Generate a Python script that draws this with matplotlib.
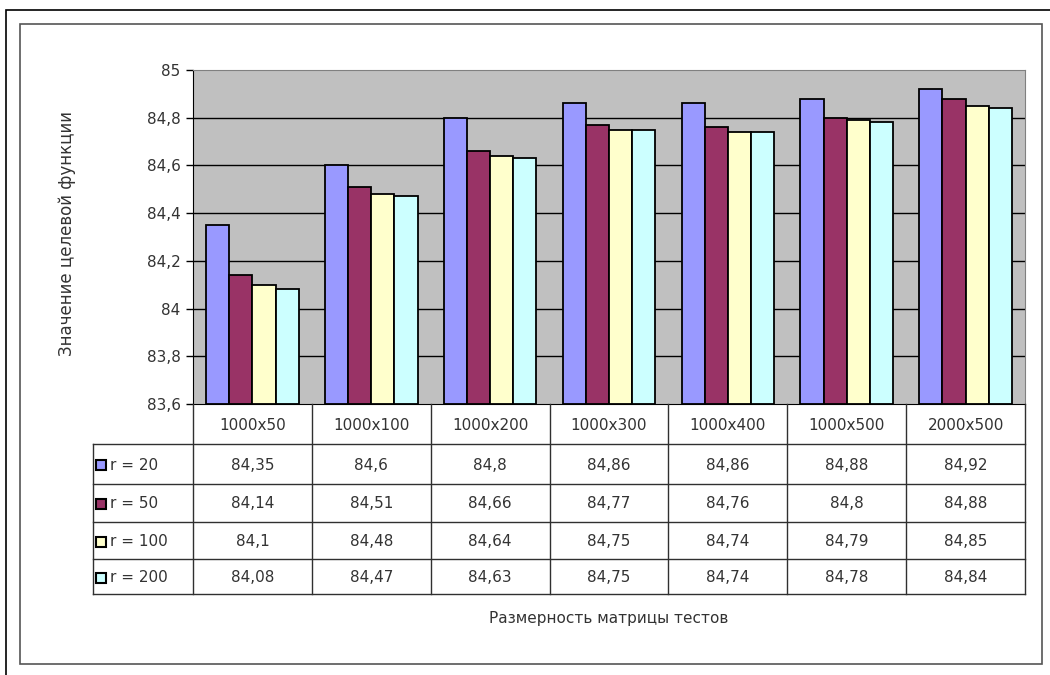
import numpy as np
import matplotlib
matplotlib.use("Agg")
import matplotlib.pyplot as plt
from matplotlib.patches import Rectangle

plt.rcParams["font.family"] = ["DejaVu Sans"]

categories = ["1000x50", "1000x100", "1000x200", "1000x300", "1000x400", "1000x500", "2000x500"]
series_names = ["r = 20", "r = 50", "r = 100", "r = 200"]
r20 = [84.35, 84.6, 84.8, 84.86, 84.86, 84.88, 84.92]
r50 = [84.14, 84.51, 84.66, 84.77, 84.76, 84.8, 84.88]
r100 = [84.1, 84.48, 84.64, 84.75, 84.74, 84.79, 84.85]
r200 = [84.08, 84.47, 84.63, 84.75, 84.74, 84.78, 84.84]
yticks = [83.6, 83.8, 84.0, 84.2, 84.4, 84.6, 84.8, 85.0]

colors = ["#9999FF", "#993366", "#FFFFCC", "#CCFFFF"]
series = [r20, r50, r100, r200]

W, H = 1050, 675
FS = 11
TC = "#333333"


def rect(l, t, r, b):
    return [l / W, 1 - b / H, (r - l) / W, (b - t) / H]


def fmt(v):
    return f"{v:g}".replace(".", ",")


fig = plt.figure(figsize=(10.5, 6.75), dpi=100)

# frames
fig.patches.append(Rectangle((6 / W, -0.1), 1.2, 1.1 - 10 / H, transform=fig.transFigure,
                             fill=False, edgecolor="black", lw=1.2))
fig.patches.append(Rectangle((20 / W, 1 - 664 / H), 1022 / W, 640 / H, transform=fig.transFigure,
                             fill=False, edgecolor="#555555", lw=1.2))

# plot area
left, right, top, bottom = 193, 1025, 70, 404
ax = fig.add_axes(rect(left, top, right, bottom))
ax.set_facecolor("#C0C0C0")
x = np.arange(len(categories))
w = 0.195
for i, (vals, c) in enumerate(zip(series, colors)):
    ax.bar(x + (i - 1.5) * w, np.array(vals) - 83.6, w, bottom=83.6, color=c,
           edgecolor="black", lw=1.3, zorder=3)
for yv in yticks[1:-1]:
    ax.axhline(yv, color="black", lw=1, zorder=1)
ax.set_xlim(-0.5, len(categories) - 0.5)
ax.set_ylim(83.6, 85)
ax.set_yticks(yticks)
ax.set_yticklabels([fmt(v) for v in yticks], fontsize=FS, color=TC)
ax.tick_params(axis="y", direction="out", length=5, width=1, pad=4)
ax.set_xticks([])
ax.spines["left"].set_color("black")
ax.spines["bottom"].set_color("black")
ax.spines["top"].set_color("#808080")
ax.spines["right"].set_color("#808080")

fig.text(67 / W, 1 - 234 / H, "Значение целевой функции", rotation=90,
         ha="center", va="center", fontsize=12, color=TC)

# data table
colw = (right - left) / len(categories)
leg_left = 93
tax = fig.add_axes(rect(leg_left, bottom, right, 594))
xl = -0.5 - (left - leg_left) / colw
xr = len(categories) - 0.5
tax.set_xlim(xl, xr)
rows_y = [404, 444, 484, 522, 559, 594]
tax.set_ylim(594, 404)
tax.axis("off")
lc = "#303030"
for yy in rows_y[1:]:
    tax.plot([xl, xr], [yy, yy], color=lc, lw=1, clip_on=False)
for k in range(len(categories) + 1):
    tax.plot([k - 0.5, k - 0.5], [404, 594], color=lc, lw=1, clip_on=False)
tax.plot([xl, xl], [444, 594], color=lc, lw=1, clip_on=False)

for j, cat in enumerate(categories):
    tax.text(j, (rows_y[0] + rows_y[1]) / 2 + 1, cat, ha="center", va="center",
             fontsize=FS, color=TC)
for i, (name, vals, c) in enumerate(zip(series_names, series, colors)):
    yc = (rows_y[i + 1] + rows_y[i + 2]) / 2 + 1
    tax.plot([xl + 8 / colw], [yc], marker="s", ms=7.5, mfc=c, mec="black", mew=1.5,
             clip_on=False)
    tax.text(xl + 17 / colw, yc, name, ha="left", va="center", fontsize=FS, color=TC)
    for j, v in enumerate(vals):
        tax.text(j, yc, fmt(v), ha="center", va="center", fontsize=FS, color=TC)

fig.text((left + right) / 2 / W, 1 - 619 / H, "Размерность матрицы тестов",
         ha="center", va="center", fontsize=FS, color=TC)

fig.savefig("out.png", dpi=100)
